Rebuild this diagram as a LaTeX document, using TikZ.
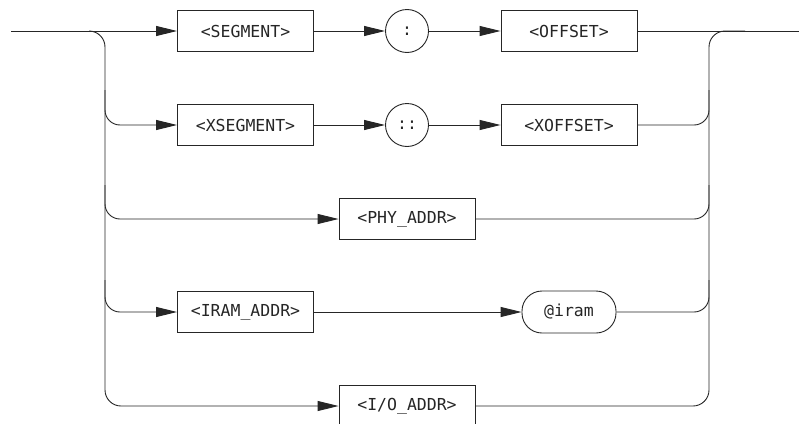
\documentclass[tikz,border=0pt]{standalone}
\usepackage{fontspec}
\setmonofont{DejaVu Sans Mono}
\usetikzlibrary{arrows.meta}
\tikzset{
  every picture/.style={x=1pt,y=-1pt},
  wire/.style={line width=0.9pt,black!85},
  arr/.style={wire,-{Triangle[length=21pt,width=10pt]}},
  labelfont/.style={font=\ttfamily\fontsize{16.5}{17}\selectfont,text=black!85},
  termbox/.style={draw,wire,labelfont,minimum width=136pt,minimum height=41pt,inner sep=0pt},
  litcirc/.style={draw,wire,labelfont,circle,minimum size=43pt,inner sep=0pt},
  litpill/.style={draw,wire,labelfont,rounded corners=20pt,minimum width=94pt,minimum height=42pt,inner sep=0pt},
  branch/.style={wire,rounded corners=15pt},
  brancharr/.style={arr,rounded corners=15pt}
}
\begin{document}
\begin{tikzpicture}
\clip (0,0) rectangle (799,423);
\fill[white] (0,0) rectangle (799,423);
% nodes
\node[termbox] (seg) at (245.5,31) {<SEGMENT>};
\node[litcirc] (col) at (407,31) {:};
\node[termbox] (off) at (569,31) {<OFFSET>};
\node[termbox] (xseg) at (245.5,125) {<XSEGMENT>};
\node[litcirc] (dcol) at (407,125) {::};
\node[termbox] (xoff) at (569,125) {<XOFFSET>};
\node[termbox] (phy) at (407,219) {<PHY\_ADDR>};
\node[termbox] (iram) at (245.5,312) {<IRAM\_ADDR>};
\node[litpill] (at) at (569,312) {@iram};
\node[termbox] (io) at (407,406) {<I/O\_ADDR>};
% coordinates
\coordinate (entry) at (11,31);
\coordinate (split) at (89,31);
\coordinate (exit) at (799,31);
\coordinate (merge) at (745,31);
\coordinate (lv2) at (105,90);
\coordinate (lv3) at (105,185);
\coordinate (lv4) at (105,280);
\coordinate (rv) at (709,31);
\coordinate (rv2) at (709,90);
\coordinate (rv3) at (709,185);
\coordinate (rv4) at (709,280);
% main row
\draw[arr] (entry) -- (seg.west);
\draw[arr] (seg.east) -- (col.west);
\draw[arr] (col.east) -- (off.west);
\draw[wire] (off.east) -- (exit);
% left branches
\draw[brancharr,rounded corners=16pt] (split) -| (lv2) |- (io.west);
\draw[brancharr] (lv2) |- (xseg.west);
\draw[brancharr] (lv3) |- (phy.west);
\draw[brancharr] (lv4) |- (iram.west);
% row contents
\draw[arr] (xseg.east) -- (dcol.west);
\draw[arr] (dcol.east) -- (xoff.west);
\draw[arr] (iram.east) -- (at.west);
% right merges
\draw[branch,rounded corners=16pt] (io.east) -| (rv) -- (merge);
\draw[branch] (xoff.east) -| (rv2);
\draw[branch] (phy.east) -| (rv3);
\draw[branch] (at.east) -| (rv4);
\end{tikzpicture}
\end{document}
